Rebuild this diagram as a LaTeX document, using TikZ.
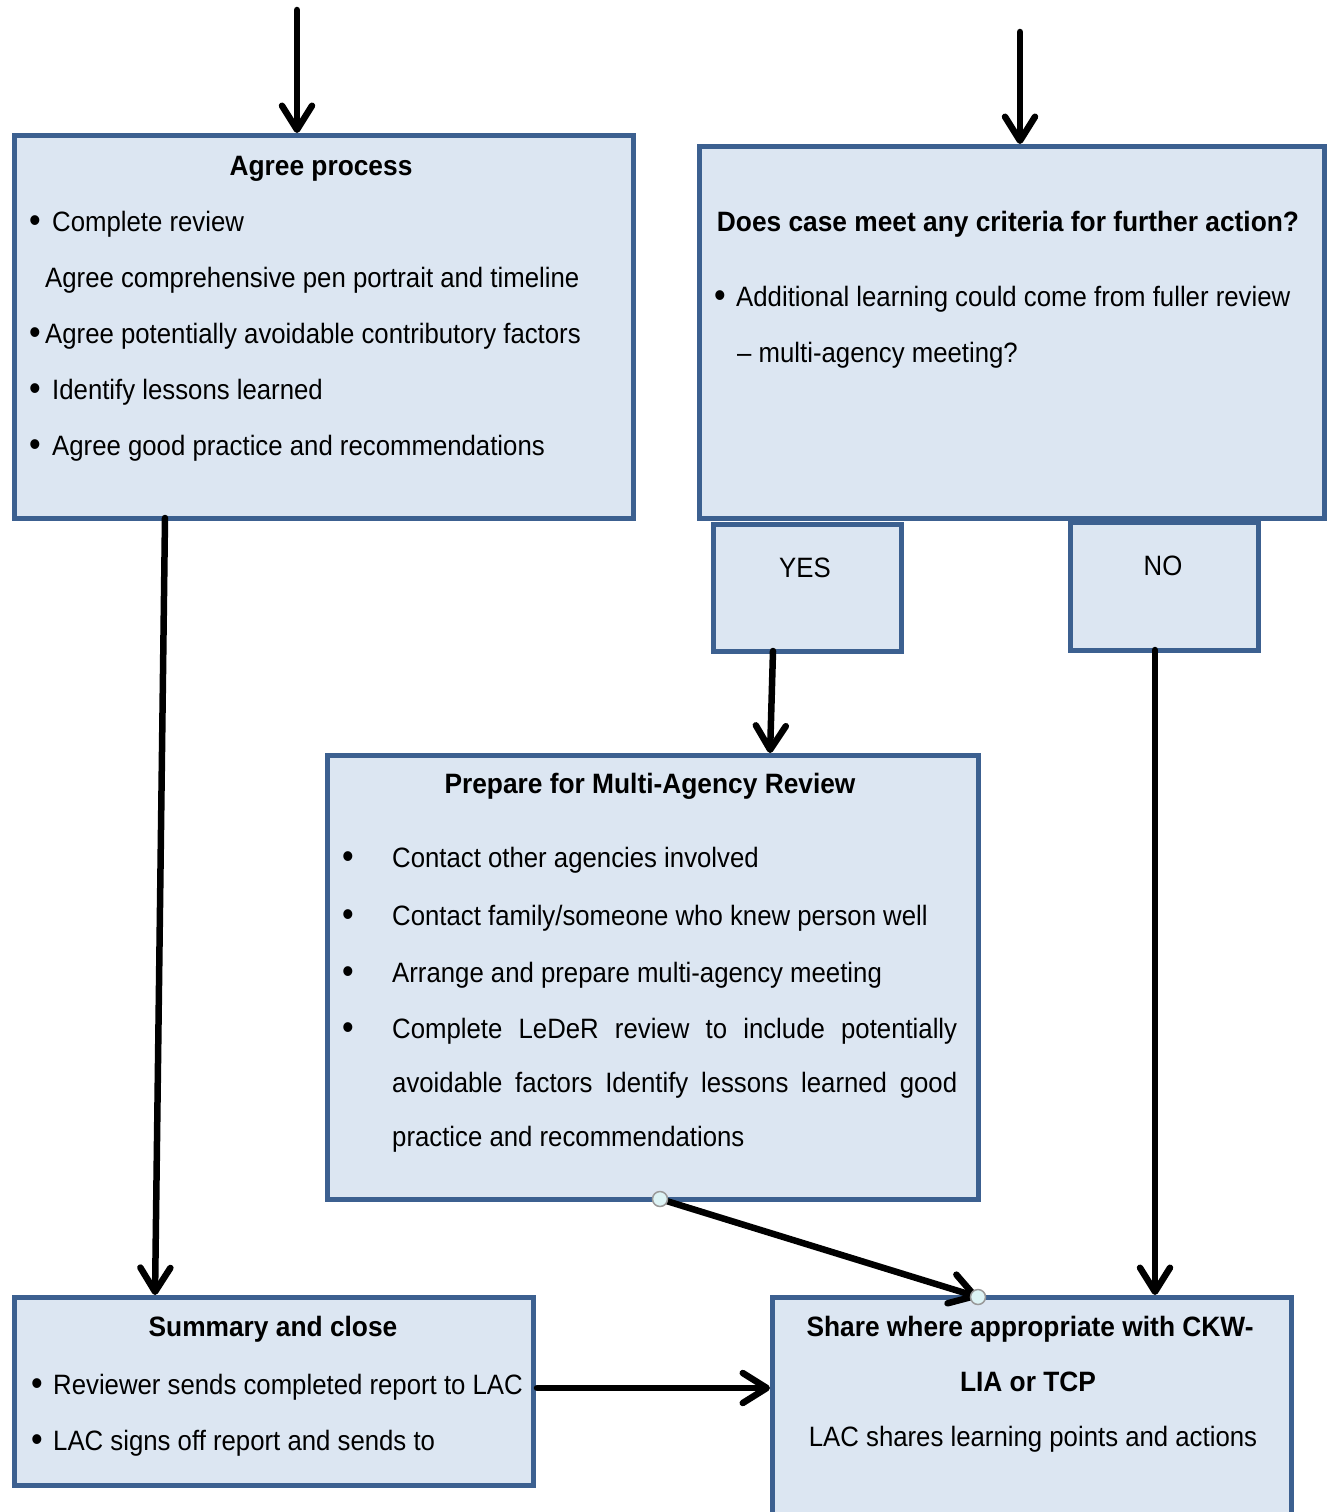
\documentclass[tikz,border=0pt]{standalone}
\usepackage{fontspec}
\setmainfont{Liberation Sans}[FakeStretch=0.92, BoldFeatures={FakeStretch=0.94}]
\usetikzlibrary{arrows.meta}
\definecolor{boxfill}{HTML}{DCE6F2}
\definecolor{boxline}{HTML}{3C6090}
\definecolor{dotfill}{HTML}{DDF3F5}
\tikzset{
 box/.style={draw=boxline, fill=boxfill, line width=5pt, rectangle, anchor=north west, inner sep=0pt, outer sep=0pt},
 txt/.style={anchor=mid west, inner sep=0pt, yshift=-7pt, font=\fontsize{28}{34}\selectfont},
 ttl/.style={anchor=mid, inner sep=0pt, yshift=-7pt, font=\fontsize{28}{34}\selectfont\bfseries},
 ctr/.style={anchor=mid, inner sep=0pt, yshift=-7pt, font=\fontsize{28}{34}\selectfont},
 bul/.style={anchor=center, inner sep=0pt, font=\fontsize{36}{40}\selectfont},
 arr/.style={line width=6.5pt, -{Straight Barb[length=24pt,width=30pt,line cap=round,line join=round]}, line cap=round, shorten >=2pt},
 dot/.style={circle, draw=gray!80, fill=dotfill, line width=1.5pt, minimum size=15pt, inner sep=0pt}
}
\begin{document}
\begin{tikzpicture}[x=1pt,y=-1pt]
\useasboundingbox (0,0) rectangle (1333,1512);
\clip (0,0) rectangle (1333,1512);
\fill[white] (0,0) rectangle (1333,1512);

% boxes
\node[box, minimum width=619pt, minimum height=383pt] (agree) at (14,135) {};
\node[box, minimum width=625pt, minimum height=372pt] (crit) at (699,146) {};
\node[box, minimum width=188pt, minimum height=127pt] (yes) at (713,524) {};
\node[box, minimum width=188pt, minimum height=128pt] (no) at (1070,522) {};
\node[box, minimum width=651pt, minimum height=444pt] (prep) at (327,755) {};
\node[box, minimum width=519pt, minimum height=188pt] (summ) at (14,1297) {};
\node[box, minimum width=519pt, minimum height=263pt] (share) at (772,1297) {};

% Agree process text
\node[ttl] (a0) at (321,166) {Agree process};
\node[bul] (ab1) at (35,224) {•};
\node[txt] (a1) at (52,222) {Complete review};
\node[txt] (a2) at (45,278) {Agree comprehensive pen portrait and timeline};
\node[bul] (ab3) at (35,336) {•};
\node[txt] (a3) at (45,334) {Agree potentially avoidable contributory factors};
\node[bul] (ab4) at (35,392) {•};
\node[txt] (a4) at (52,390) {Identify lessons learned};
\node[bul] (ab5) at (35,448) {•};
\node[txt] (a5) at (52,446) {Agree good practice and recommendations};

% Criteria text
\node[ttl] (c0) at (1008,222) {Does case meet any criteria for further action?};
\node[bul] (cb1) at (720,299) {•};
\node[txt] (c1) at (736,297) {Additional learning could come from fuller review};
\node[txt] (c2) at (737,353) {– multi-agency meeting?};

\node[ctr] (yt) at (805,568) {YES};
\node[ctr] (nt) at (1163,566) {NO};

% Prepare text
\node[ttl] (p0) at (650,784) {Prepare for Multi-Agency Review};
\node[bul] (pb1) at (348,860) {•};
\node[txt] (p1) at (392,858) {Contact other agencies involved};
\node[bul] (pb2) at (348,918) {•};
\node[txt] (p2) at (392,916) {Contact family/someone who knew person well};
\node[bul] (pb3) at (348,975) {•};
\node[txt] (p3) at (392,973) {Arrange and prepare multi-agency meeting};
\node[bul] (pb4) at (348,1031) {•};
\node[txt] (p4) at (392,1029) {\makebox[565pt][s]{Complete LeDeR review to include potentially}};
\node[txt] (p5) at (392,1083) {\makebox[565pt][s]{avoidable factors Identify lessons learned good}};
\node[txt] (p6) at (392,1137) {practice and recommendations};

% Summary text
\node[ttl] (s0) at (273,1327) {Summary and close};
\node[bul] (sb1) at (37,1387) {•};
\node[txt] (s1) at (53,1385) {Reviewer sends completed report to LAC};
\node[bul] (sb2) at (37,1443) {•};
\node[txt] (s2) at (53,1441) {LAC signs off report and sends to};

% Share text
\node[ttl] (h0) at (1030,1327) {Share where appropriate with CKW-};
\node[ttl] (h1) at (1028,1382) {LIA or TCP};
\node[ctr] (h2) at (1033,1437) {LAC shares learning points and actions};

% connectors
\coordinate (t1) at (297,10);
\coordinate (t2) at (1020,32);
\draw[arr] (t1) -- (t1 |- agree.north);
\draw[arr] (t2) -- (t2 |- crit.north);

\coordinate (ya) at (773,0);
\coordinate (yb) at (770,0);
\draw[arr] (ya |- yes.south) -- (yb |- prep.north);

\coordinate (aa) at (165,0);
\coordinate (ab) at (155,0);
\draw[arr] (aa |- agree.south) -- (ab |- summ.north);

\coordinate (na) at (1155,0);
\draw[arr] (na |- no.south) -- (na |- share.north);

\coordinate (hy) at (0,1388);
\draw[arr, shorten <=4pt] (summ.east |- hy) -- (share.west |- hy);

\coordinate (da) at (660,0);
\coordinate (db) at (978,0);
\coordinate (pa) at (da |- prep.south);
\coordinate (pb) at (db |- share.north);
\draw[arr, shorten >=0pt] (pa) -- (pb);
\node[dot] (d1) at (pa) {};
\node[dot] (d2) at (pb) {};
\end{tikzpicture}
\end{document}
